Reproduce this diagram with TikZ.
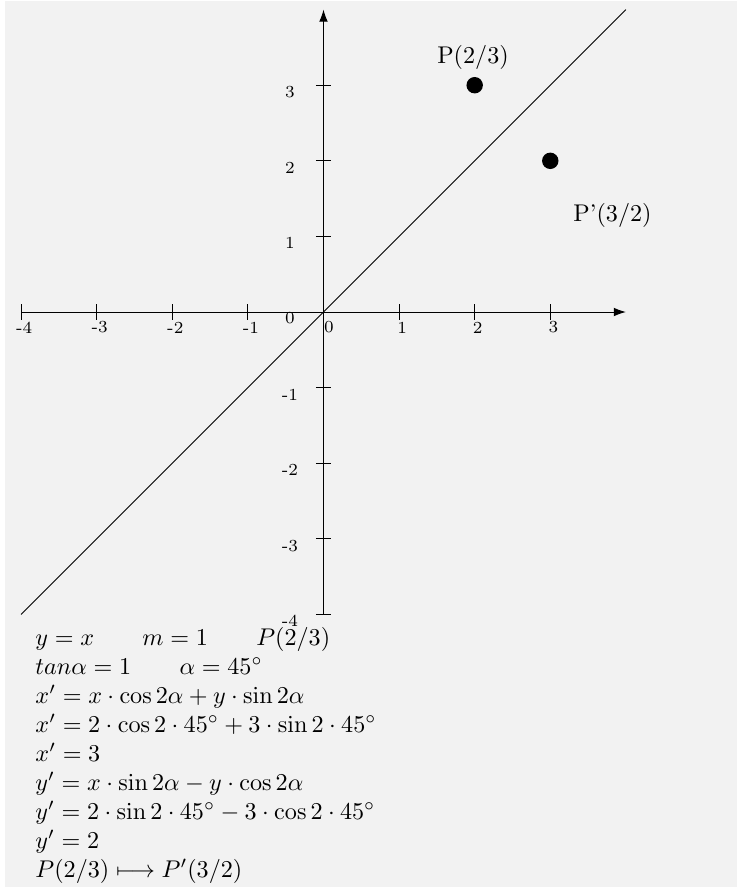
\documentclass[tikz,border=0pt]{standalone}
\usepackage{amsmath, amssymb}
\usepackage{xcolor}
\usepackage{tikz}
\usetikzlibrary{arrows.meta}
\definecolor{bggray}{RGB}{242,242,242}

\begin{document}
\begin{tikzpicture}[x=1.1cm, y=1.1cm, font=\normalsize]
  \useasboundingbox (-4.279,-7.619) rectangle (5.522,4.127);
  \fill[bggray] (-4.213,-7.606) rectangle (5.470,4.114);
  % axes
  \coordinate (xmin) at (-4,0);
  \coordinate (xmax) at (4,0);
  \coordinate (ymin) at (0,-4);
  \coordinate (ymax) at (0,4);
  \draw[-{Latex[length=5pt,width=3.6pt]}] (xmin) -- (xmax);
  \draw[-{Latex[length=5pt,width=3.6pt]}] (ymin) -- (ymax);
  \foreach \k in {-4,...,3} {
    \draw (\k,-0.1) -- (\k,0.1);
    \draw (-0.1,\k) -- (0.1,\k);
  }
  \foreach \k in {-4,-3,-2,-1,1,2,3} {
    \node[font=\scriptsize] (xl\k) at (\k+0.04,-0.205) {\k};
    \node[font=\scriptsize] (yl\k) at (-0.443,\k-0.09) {\k};
  }
  \node[font=\scriptsize] (xl0) at (0.073,-0.205) {0};
  \node[font=\scriptsize] (yl0) at (-0.443,-0.08) {0};
  % mirror line y=x
  \coordinate (gstart) at (-4,-4);
  \coordinate (gend) at (4,4);
  \draw (gstart) -- (gend);
  % points
  \node[circle, fill=black, inner sep=0pt, minimum size=6.8pt] (P) at (2,3) {};
  \node[circle, fill=black, inner sep=0pt, minimum size=6.8pt] (Pm) at (3,2) {};
  \node (Plabel) at (1.978,3.373) {P(2/3)};
  \node (Pmlabel) at (3.823,1.283) {P'(3/2)};
  % calculation
  \node[anchor=north west, inner sep=0pt, align=left] (calc) at (-3.816,-4.167) {%
    $y=x \qquad m=1 \qquad P(2/3)$\\
    $tan\alpha=1 \qquad \alpha=45^\circ$\\
    $x'=x\cdot\cos 2\alpha+y\cdot\sin 2\alpha$\\
    $x'=2\cdot\cos 2\cdot 45^\circ+3\cdot\sin 2\cdot 45^\circ$\\
    $x'=3$\\
    $y'=x\cdot\sin 2\alpha-y\cdot\cos 2\alpha$\\
    $y'=2\cdot\sin 2\cdot 45^\circ-3\cdot\cos 2\cdot 45^\circ$\\
    $y'=2$\\
    $P(2/3)\longmapsto P'(3/2)$};
\end{tikzpicture}
\end{document}
